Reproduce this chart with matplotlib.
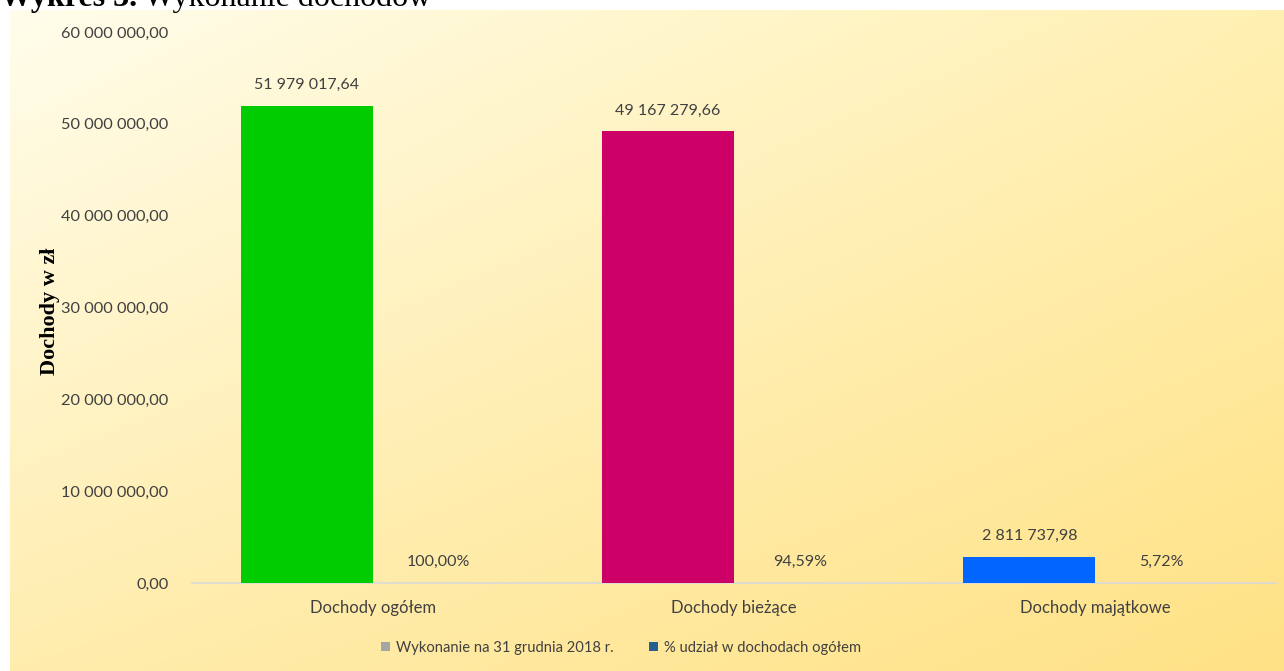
import numpy as np
import matplotlib.pyplot as plt
from matplotlib.patches import Patch

# Dane
categories = ['Dochody ogółem', 'Dochody bieżące', 'Dochody majątkowe']
wykonanie = [51979017.64, 49167279.66, 2811737.98]
udzial = [1.0000, 0.9459, 0.0572]
bar_colors = ['#00CC00', '#CC0066', '#0066FF']
yticks = [0, 10000000, 20000000, 30000000, 40000000, 50000000, 60000000]

TEXT = '#404040'
FONT = 'Lato'


def fmt_pl(v, dec=2):
    s = f'{v:,.{dec}f}'
    return s.replace(',', ' ').replace('.', ',')


fig = plt.figure(figsize=(12.84, 6.71), dpi=100)
fig.patch.set_facecolor('white')

# tło z gradientem
bg = fig.add_axes([10 / 1284, 0, 1 - 10 / 1284, 661 / 671])
tl = np.array([255, 253, 235]) / 255
tr = np.array([255, 240, 178]) / 255
bl = np.array([255, 237, 174]) / 255
br = np.array([255, 226, 134]) / 255
u = np.linspace(0, 1, 200)[None, :, None]
w = np.linspace(0, 1, 120)[:, None, None]
img = (1 - w) * ((1 - u) * tl + u * tr) + w * ((1 - u) * bl + u * br)
bg.imshow(img, aspect='auto', extent=(0, 1, 0, 1), interpolation='bilinear')
bg.set_axis_off()

# tytuł (ucięty u góry, jak w oryginale)
t1 = fig.text(0.0, 1 - 6 / 671, 'Wykres 3.', fontsize=23, fontweight='bold',
              family='Liberation Serif', va='baseline', ha='left', color='black')
fig.canvas.draw()
x1 = t1.get_window_extent().x1
fig.text((x1 + 7) / 1284, 1 - 6 / 671, 'Wykonanie dochodów', fontsize=23,
         family='Liberation Serif', va='baseline', ha='left', color='black')

ax = fig.add_axes([192 / 1284, 88 / 671, 1084 / 1284, 551 / 671])
ax.set_facecolor('none')

x = np.arange(len(categories))
bw = 0.365
b1 = ax.bar(x - bw / 2, wykonanie, bw, color=bar_colors, zorder=3)
b2 = ax.bar(x + bw / 2, udzial, bw, color='#255E91', zorder=3)

for rect, v in zip(b1, wykonanie):
    ax.annotate(fmt_pl(v), (rect.get_x() + rect.get_width() / 2, rect.get_height()),
                xytext=(0, 10), textcoords='offset points', ha='center', va='bottom',
                fontsize=11.5, family=FONT, color=TEXT)
for rect, v in zip(b2, udzial):
    ax.annotate(fmt_pl(v * 100) + '%', (rect.get_x() + rect.get_width() / 2, rect.get_height()),
                xytext=(0, 10), textcoords='offset points', ha='center', va='bottom',
                fontsize=11.5, family=FONT, color=TEXT)

ax.set_xlim(-0.5, 2.5)
ax.set_ylim(0, 60000000)
ax.set_yticks(yticks)
ax.set_yticklabels([fmt_pl(t) for t in yticks], family=FONT, fontsize=11.8, color=TEXT)
ax.set_xticks(x)
ax.set_xticklabels(categories, family=FONT, fontsize=12, color=TEXT)
ax.tick_params(axis='y', length=0, pad=17)
ax.tick_params(axis='x', length=0, pad=12)

for side in ['top', 'right', 'left']:
    ax.spines[side].set_visible(False)
ax.spines['bottom'].set_color('#D9D9D9')
ax.spines['bottom'].set_linewidth(1.2)

fig.text(50 / 1284, 1 - 311 / 671, 'Dochody w zł', rotation=90, fontsize=16,
         fontweight='bold', family='Liberation Serif', ha='center', va='center',
         color='black')

handles = [Patch(facecolor='#A5A5A5'), Patch(facecolor='#255E91')]
labels = ['Wykonanie na 31 grudnia 2018 r.', '% udział w dochodach ogółem']
leg = fig.legend(handles, labels, loc='center', bbox_to_anchor=(621 / 1284, 1 - 648 / 671),
                 ncol=2, frameon=False, prop={'family': FONT, 'size': 10.6},
                 handlelength=0.6, handleheight=0.6, handletextpad=0.4, columnspacing=2.4)
for t in leg.get_texts():
    t.set_color(TEXT)

fig.savefig('out.png', dpi=100)
